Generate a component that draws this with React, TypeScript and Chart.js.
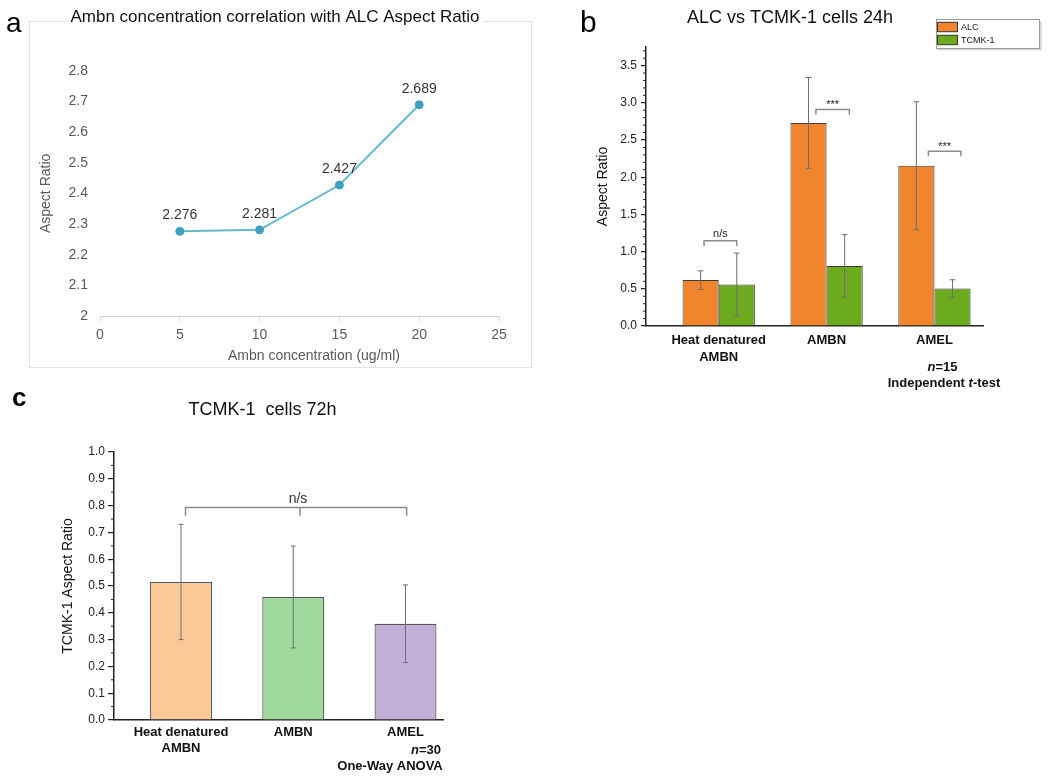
import React, { useEffect, useRef } from 'react';
import { Chart, registerables } from 'chart.js';

Chart.register(...registerables);

const FONT = "'Liberation Sans', Arial, Helvetica, sans-serif";
Chart.defaults.font.family = FONT;

// ---------- Panel a : line chart ----------
const concentrations = [5, 10, 15, 20];
const aspectRatios = [2.276, 2.281, 2.427, 2.689];

// ---------- Panel b : grouped bars 24h ----------
const groups24: (string | string[])[] = [['Heat denatured', 'AMBN'], 'AMBN', 'AMEL'];
const seriesNames24 = ['ALC', 'TCMK-1'];
const alcMeans = [0.617, 2.73, 2.153];
const alcErrors = [0.125, 0.61, 0.86];
const tcmkMeans = [0.557, 0.808, 0.503];
const tcmkErrors = [0.423, 0.42, 0.119];
const sig24Labels = ['n/s', '***', '***'];
const sig24Heights = [1.146, 2.91, 2.35];
const sig24Starts = [0.864, 1.901, 2.944];
const sig24Ends = [1.167, 2.211, 3.245];

// ---------- Panel c : bars 72h ----------
const groups72: (string | string[])[] = [['Heat denatured', 'AMBN'], 'AMBN', 'AMEL'];
const tcmk72Means = [0.515, 0.459, 0.359];
const tcmk72Errors = [0.215, 0.19, 0.145];
const tcmk72Colors = ['#FBC898', '#9FD99C', '#C3B0D8'];
const sig72Label = 'n/s';
const sig72Height = 0.793;
const sig72Ticks = [1.04, 2.06, 3.01];

const ORANGE = '#F0852D';
const GREEN = '#6BAA1D';

type Run = { text: string; font: string };

function drawRuns(ctx: CanvasRenderingContext2D, runs: Run[], cx: number, cy: number) {
  let total = 0;
  runs.forEach((r) => {
    ctx.font = r.font;
    total += ctx.measureText(r.text).width;
  });
  let x = cx - total / 2;
  ctx.textAlign = 'left';
  ctx.textBaseline = 'middle';
  runs.forEach((r) => {
    ctx.font = r.font;
    ctx.fillText(r.text, x, cy);
    x += ctx.measureText(r.text).width;
  });
}

function drawMinorTicks(chart: any, step: number, major: number, len: number, color: string, width: number) {
  const s = chart.scales.y;
  const ctx = chart.ctx;
  ctx.save();
  ctx.strokeStyle = color;
  ctx.lineWidth = width;
  const n = Math.round((s.max - s.min) / step);
  for (let k = 0; k <= n; k++) {
    const v = s.min + k * step;
    if (v > s.max + 1e-9) break;
    const r = v / major;
    if (Math.abs(r - Math.round(r)) < 1e-6) continue;
    const p = s.getPixelForValue(v);
    ctx.beginPath();
    ctx.moveTo(s.right - len, p);
    ctx.lineTo(s.right, p);
    ctx.stroke();
  }
  ctx.restore();
}

function drawErrorBars(chart: any, color: string, capHalf: number, width: number) {
  const ctx = chart.ctx;
  const ys = chart.scales.y;
  ctx.save();
  ctx.strokeStyle = color;
  ctx.lineWidth = width;
  chart.data.datasets.forEach((ds: any, di: number) => {
    const errs = ds.errors;
    if (!errs) return;
    const meta = chart.getDatasetMeta(di);
    meta.data.forEach((bar: any, i: number) => {
      const v = ds.data[i].y;
      const e = errs[i];
      const top = ys.getPixelForValue(v + e);
      const bot = ys.getPixelForValue(v - e);
      ctx.beginPath();
      ctx.moveTo(bar.x, top);
      ctx.lineTo(bar.x, bot);
      ctx.moveTo(bar.x - capHalf, top);
      ctx.lineTo(bar.x + capHalf, top);
      ctx.moveTo(bar.x - capHalf, bot);
      ctx.lineTo(bar.x + capHalf, bot);
      ctx.stroke();
    });
  });
  ctx.restore();
}

const panelAPlugin = {
  id: 'panelA',
  beforeDraw(chart: any) {
    const ctx = chart.ctx;
    ctx.save();
    ctx.fillStyle = '#ffffff';
    ctx.fillRect(0, 0, chart.width, chart.height);
    ctx.strokeStyle = '#e2e2e2';
    ctx.lineWidth = 1;
    ctx.strokeRect(29.5, 21.5, 502, 346);
    // gap behind title
    const tb = chart.titleBlock;
    const text = chart.options.plugins.title.text;
    ctx.font = `17px ${FONT}`;
    const w = ctx.measureText(text).width;
    const cx = tb ? (tb.left + tb.right) / 2 : chart.width / 2;
    ctx.fillStyle = '#ffffff';
    ctx.fillRect(cx - w / 2 - 3, 18, w + 6, 6);
    ctx.fillStyle = '#000';
    ctx.font = `28px ${FONT}`;
    ctx.textAlign = 'left';
    ctx.textBaseline = 'alphabetic';
    ctx.fillText('a', 6, 32);
    ctx.restore();
  },
  afterDraw(chart: any) {
    const ctx = chart.ctx;
    const ds = chart.data.datasets[0];
    const meta = chart.getDatasetMeta(0);
    ctx.save();
    ctx.fillStyle = '#333';
    ctx.font = `14px ${FONT}`;
    ctx.textAlign = 'center';
    ctx.textBaseline = 'middle';
    meta.data.forEach((pt: any, i: number) => {
      ctx.fillText(ds.data[i].y.toFixed(3), pt.x, pt.y - 16);
    });
    ctx.fillStyle = '#595959';
    ctx.fillText('Ambn concentration (ug/ml)', 314, 356);
    ctx.restore();
  },
};

const panelBPlugin = {
  id: 'panelB',
  beforeDraw(chart: any) {
    const ctx = chart.ctx;
    ctx.save();
    ctx.fillStyle = '#ffffff';
    ctx.fillRect(0, 0, chart.width, chart.height);
    ctx.fillStyle = '#000';
    ctx.font = `30px ${FONT}`;
    ctx.textAlign = 'left';
    ctx.textBaseline = 'alphabetic';
    ctx.fillText('b', 20, 32);
    ctx.restore();
  },
  afterDraw(chart: any) {
    const ctx = chart.ctx;
    const xs = chart.scales.x;
    const ys = chart.scales.y;
    drawMinorTicks(chart, 0.1, 0.5, 3, '#222', 1);
    drawErrorBars(chart, '#6e6e6e', 2.8, 1);
    ctx.save();
    // significance brackets
    sig24Labels.forEach((lab, i) => {
      const xl = xs.getPixelForValue(sig24Starts[i]);
      const xr = xs.getPixelForValue(sig24Ends[i]);
      const yb = ys.getPixelForValue(sig24Heights[i]);
      const yd = ys.getPixelForValue(sig24Heights[i] - 0.07);
      ctx.strokeStyle = '#8c8c8c';
      ctx.lineWidth = 1.5;
      ctx.beginPath();
      ctx.moveTo(xl, yd);
      ctx.lineTo(xl, yb);
      ctx.lineTo(xr, yb);
      ctx.lineTo(xr, yd);
      ctx.stroke();
      ctx.fillStyle = '#222';
      ctx.font = `11px ${FONT}`;
      ctx.textAlign = 'center';
      ctx.textBaseline = 'alphabetic';
      ctx.fillText(lab, (xl + xr) / 2, yb - (lab === '***' ? 1 : 4));
    });
    // legend
    ctx.fillStyle = '#ffffff';
    ctx.fillRect(376.5, 19.5, 103, 29);
    ctx.strokeStyle = '#d2d2d2';
    ctx.lineWidth = 1.5;
    ctx.beginPath();
    ctx.moveTo(378, 49.5);
    ctx.lineTo(481, 49.5);
    ctx.lineTo(481, 21);
    ctx.stroke();
    ctx.strokeStyle = '#9a9a9a';
    ctx.lineWidth = 1;
    ctx.strokeRect(376.5, 19.5, 103, 29);
    const swY = [22.3, 35.3];
    chart.data.datasets.forEach((ds: any, i: number) => {
      ctx.fillStyle = ds.backgroundColor;
      ctx.fillRect(377.5, swY[i], 20, 9.4);
      ctx.strokeStyle = '#333';
      ctx.strokeRect(377.5, swY[i], 20, 9.4);
      ctx.fillStyle = '#111';
      ctx.font = `9px ${FONT}`;
      ctx.textAlign = 'left';
      ctx.textBaseline = 'middle';
      ctx.fillText(ds.label, 401, swY[i] + 5);
    });
    // notes
    ctx.fillStyle = '#111';
    drawRuns(ctx, [
      { text: 'n', font: `italic bold 13px ${FONT}` },
      { text: '=15', font: `bold 13px ${FONT}` },
    ], 382.5, 367);
    drawRuns(ctx, [
      { text: 'Independent ', font: `bold 13px ${FONT}` },
      { text: 't', font: `italic bold 13px ${FONT}` },
      { text: '-test', font: `bold 13px ${FONT}` },
    ], 384, 383.5);
    ctx.restore();
  },
};

const panelCPlugin = {
  id: 'panelC',
  beforeDraw(chart: any) {
    const ctx = chart.ctx;
    ctx.save();
    ctx.fillStyle = '#ffffff';
    ctx.fillRect(0, 0, chart.width, chart.height);
    ctx.fillStyle = '#000';
    ctx.font = `bold 26px ${FONT}`;
    ctx.textAlign = 'left';
    ctx.textBaseline = 'alphabetic';
    ctx.fillText('c', 12, 26);
    ctx.restore();
  },
  afterDraw(chart: any) {
    const ctx = chart.ctx;
    const xs = chart.scales.x;
    const ys = chart.scales.y;
    drawMinorTicks(chart, 0.05, 0.1, 3, '#222', 1);
    drawErrorBars(chart, '#6e6e6e', 2.5, 1);
    ctx.save();
    const yb = ys.getPixelForValue(sig72Height);
    const yd = ys.getPixelForValue(sig72Height - 0.031);
    const px = sig72Ticks.map((v) => xs.getPixelForValue(v));
    ctx.strokeStyle = '#8c8c8c';
    ctx.lineWidth = 1.5;
    ctx.beginPath();
    ctx.moveTo(px[0], yd);
    ctx.lineTo(px[0], yb);
    ctx.lineTo(px[px.length - 1], yb);
    ctx.lineTo(px[px.length - 1], yd);
    ctx.moveTo(px[1], yb);
    ctx.lineTo(px[1], yd);
    ctx.stroke();
    ctx.fillStyle = '#333';
    ctx.font = `14px ${FONT}`;
    ctx.textAlign = 'center';
    ctx.textBaseline = 'alphabetic';
    ctx.fillText(sig72Label, px[1] - 2, yb - 4.5);
    ctx.fillStyle = '#111';
    drawRuns(ctx, [
      { text: 'n', font: `italic bold 13px ${FONT}` },
      { text: '=30', font: `bold 13px ${FONT}` },
    ], 426, 370);
    drawRuns(ctx, [{ text: 'One-Way ANOVA', font: `bold 13px ${FONT}` }], 390, 386);
    ctx.restore();
  },
};

export default function App() {
  const refA = useRef<HTMLCanvasElement>(null);
  const refB = useRef<HTMLCanvasElement>(null);
  const refC = useRef<HTMLCanvasElement>(null);

  useEffect(() => {
    const charts: Chart[] = [];

    charts.push(
      new Chart(refA.current as HTMLCanvasElement, {
        type: 'line',
        data: {
          datasets: [
            {
              label: 'Aspect Ratio',
              data: concentrations.map((x, i) => ({ x, y: aspectRatios[i] })),
              borderColor: '#66B9CA',
              borderWidth: 2,
              pointRadius: 4,
              pointBackgroundColor: '#3BA0C1',
              pointBorderColor: '#3BA0C1',
              pointBorderWidth: 1,
              tension: 0,
            },
          ],
        },
        options: {
          responsive: false,
          animation: false,
          devicePixelRatio: 1,
          layout: { padding: { left: 51, right: 41, top: 0, bottom: 0 } },
          plugins: {
            legend: { display: false },
            tooltip: { enabled: false },
            title: {
              display: true,
              text: 'Ambn concentration correlation with ALC Aspect Ratio',
              color: '#111',
              font: { size: 17, weight: 'normal', lineHeight: 1.2 },
              padding: { top: 6.8, bottom: 43.5 },
            },
          },
          scales: {
            x: {
              type: 'linear',
              min: 0,
              max: 25,
              afterFit: (s: any) => {
                s.height = 59;
              },
              ticks: { stepSize: 5, color: '#595959', font: { size: 14 }, padding: 5.6 },
              grid: { display: true, drawOnChartArea: false, drawTicks: true, tickLength: 5, color: '#d4d4d4' },
              border: { display: true, color: '#d4d4d4', width: 1 },
            },
            y: {
              min: 2,
              max: 2.8,
              afterFit: (s: any) => {
                s.width = 49;
              },
              ticks: {
                stepSize: 0.1,
                color: '#595959',
                font: { size: 14 },
                padding: 12,
                callback: (v: any) => String(Math.round(Number(v) * 10) / 10),
              },
              grid: { display: false, drawTicks: false },
              border: { display: false },
              title: {
                display: true,
                text: 'Aspect Ratio',
                color: '#595959',
                font: { size: 14, lineHeight: 1 },
                padding: { top: -12, bottom: 0 },
              },
            },
          },
        } as any,
        plugins: [panelAPlugin],
      })
    );

    charts.push(
      new Chart(refB.current as HTMLCanvasElement, {
        type: 'bar',
        data: {
          datasets: [
            {
              label: seriesNames24[0],
              data: alcMeans.map((y, i) => ({ x: i + 1, y })),
              errors: alcErrors,
              backgroundColor: ORANGE,
              borderColor: '#3b3b3b',
              borderWidth: 1,
              borderSkipped: 'start',
              categoryPercentage: 0.67,
              barPercentage: 1,
            } as any,
            {
              label: seriesNames24[1],
              data: tcmkMeans.map((y, i) => ({ x: i + 1, y })),
              errors: tcmkErrors,
              backgroundColor: GREEN,
              borderColor: '#3b3b3b',
              borderWidth: 1,
              borderSkipped: 'start',
              categoryPercentage: 0.67,
              barPercentage: 1,
            } as any,
          ],
        },
        options: {
          responsive: false,
          animation: false,
          devicePixelRatio: 1,
          layout: { padding: { left: 37, right: 67, top: 0, bottom: 0 } },
          plugins: {
            legend: { display: false },
            tooltip: { enabled: false },
            title: {
              display: true,
              text: 'ALC vs TCMK-1 cells 24h',
              color: '#111',
              font: { size: 18, weight: 'normal', lineHeight: 1.2 },
              padding: { top: 7.2, bottom: 18.2 },
            },
          },
          scales: {
            x: {
              type: 'linear',
              min: 0.326,
              max: 3.45,
              offset: false,
              afterBuildTicks: (s: any) => {
                s.ticks = groups24.map((_, i) => ({ value: i + 1 }));
              },
              afterFit: (s: any) => {
                s.height = 74;
              },
              ticks: {
                autoSkip: false,
                maxRotation: 0,
                color: '#111',
                font: { size: 13, weight: 'bold', lineHeight: 1.3 },
                padding: 6,
                callback: (v: any) => groups24[Math.round(Number(v)) - 1],
              },
              grid: { display: false, drawTicks: false, offset: false },
              border: { display: true, color: '#222', width: 1.5 },
            },
            y: {
              min: 0,
              max: 3.75,
              afterFit: (s: any) => {
                s.width = 49;
              },
              ticks: {
                stepSize: 0.5,
                includeBounds: false,
                color: '#222',
                font: { size: 12 },
                padding: 4,
                callback: (v: any) => Number(v).toFixed(1),
              },
              grid: { drawOnChartArea: false, drawTicks: true, tickLength: 5, color: '#222', lineWidth: 1.2 },
              border: { display: true, color: '#222', width: 1.5 },
              title: {
                display: true,
                text: 'Aspect Ratio',
                color: '#111',
                font: { size: 14, lineHeight: 1 },
                padding: { top: -1, bottom: 0 },
              },
            },
          },
        } as any,
        plugins: [panelBPlugin],
      })
    );

    charts.push(
      new Chart(refC.current as HTMLCanvasElement, {
        type: 'bar',
        data: {
          datasets: [
            {
              label: 'TCMK-1 72h',
              data: tcmk72Means.map((y, i) => ({ x: i + 1, y })),
              errors: tcmk72Errors,
              backgroundColor: tcmk72Colors,
              borderColor: '#555555',
              borderWidth: 1.2,
              borderSkipped: 'start',
              categoryPercentage: 1,
              barPercentage: 0.552,
            } as any,
          ],
        },
        options: {
          responsive: false,
          animation: false,
          devicePixelRatio: 1,
          layout: { padding: { left: 82, right: 77, top: 0, bottom: 0 } },
          plugins: {
            legend: { display: false },
            tooltip: { enabled: false },
            title: {
              display: true,
              text: 'TCMK-1  cells 72h',
              color: '#111',
              font: { size: 18, weight: 'normal', lineHeight: 1.2 },
              padding: { top: 19.2, bottom: 31.2 },
            },
          },
          scales: {
            x: {
              type: 'linear',
              min: 0.403,
              max: 3.334,
              offset: false,
              afterBuildTicks: (s: any) => {
                s.ticks = groups72.map((_, i) => ({ value: i + 1 }));
              },
              afterFit: (s: any) => {
                s.height = 61;
              },
              ticks: {
                autoSkip: false,
                maxRotation: 0,
                color: '#111',
                font: { size: 13, weight: 'bold', lineHeight: 1.25 },
                padding: 4,
                callback: (v: any) => groups72[Math.round(Number(v)) - 1],
              },
              grid: { display: false, drawTicks: false, offset: false },
              border: { display: true, color: '#222', width: 1.5 },
            },
            y: {
              min: 0,
              max: 1,
              afterFit: (s: any) => {
                s.width = 32;
              },
              ticks: {
                stepSize: 0.1,
                color: '#222',
                font: { size: 12 },
                padding: 3,
                callback: (v: any) => Number(v).toFixed(1),
              },
              grid: { drawOnChartArea: false, drawTicks: true, tickLength: 6, color: '#222', lineWidth: 1.2 },
              border: { display: true, color: '#222', width: 1.5 },
              title: {
                display: true,
                text: 'TCMK-1 Aspect Ratio',
                color: '#111',
                font: { size: 14, lineHeight: 1 },
                padding: { top: -21, bottom: 0 },
              },
            },
          },
        } as any,
        plugins: [panelCPlugin],
      })
    );

    return () => {
      charts.forEach((c) => c.destroy());
    };
  }, []);

  return (
    <div style={{ position: 'absolute', left: 0, top: 0, width: 1050, height: 781, background: '#fff', overflow: 'hidden' }}>
      <canvas
        ref={refA}
        width={540}
        height={375}
        style={{ position: 'absolute', left: 0, top: 0, width: 540, height: 375 }}
      />
      <canvas
        ref={refB}
        width={490}
        height={400}
        style={{ position: 'absolute', left: 560, top: 0, width: 490, height: 400 }}
      />
      <canvas
        ref={refC}
        width={520}
        height={401}
        style={{ position: 'absolute', left: 0, top: 380, width: 520, height: 401 }}
      />
    </div>
  );
}
